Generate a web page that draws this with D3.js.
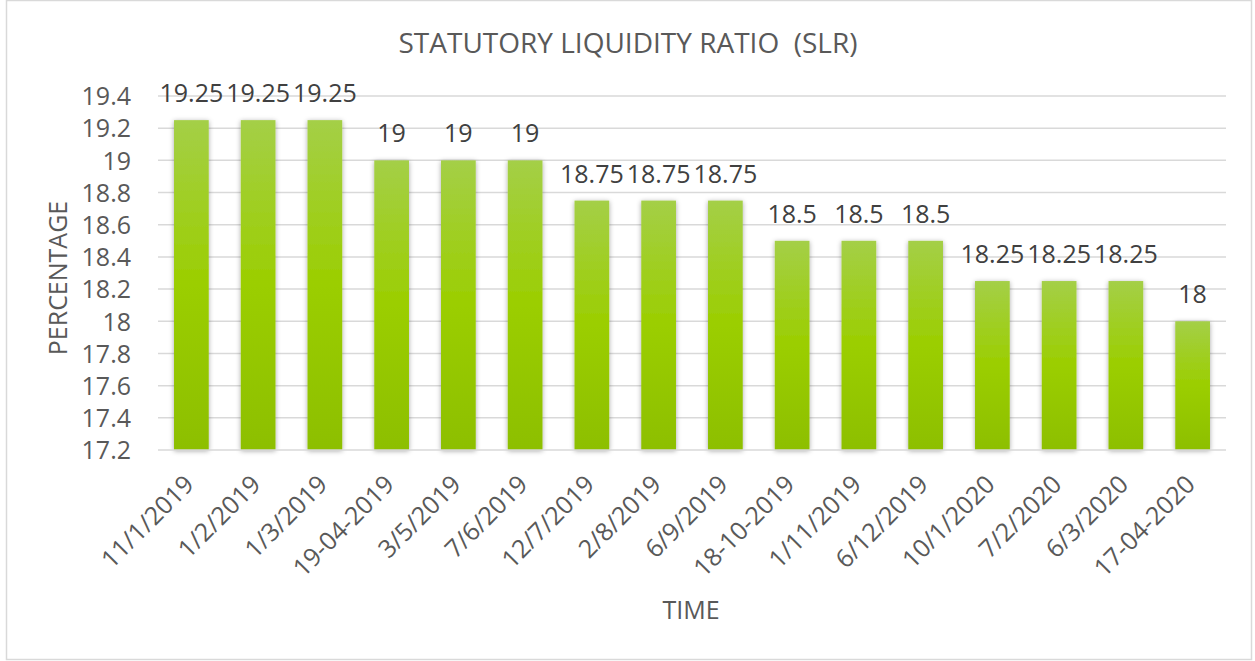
<!DOCTYPE html>
<html><head><meta charset="utf-8">
<script src="https://cdn.jsdelivr.net/npm/d3@7"></script>
<style>
html,body{margin:0;padding:0;background:#fff;}
svg text{font-family:"Open Sans",sans-serif;fill:#595959;}
</style></head>
<body>
<svg id="c" width="1255" height="661"></svg>
<script>
const categories = ["11/1/2019","1/2/2019","1/3/2019","19-04-2019","3/5/2019","7/6/2019","12/7/2019","2/8/2019","6/9/2019","18-10-2019","1/11/2019","6/12/2019","10/1/2020","7/2/2020","6/3/2020","17-04-2020"];
const values = [19.25,19.25,19.25,19,19,19,18.75,18.75,18.75,18.5,18.5,18.5,18.25,18.25,18.25,18];
const yTicks = [17.2,17.4,17.6,17.8,18,18.2,18.4,18.6,18.8,19,19.2,19.4];
const title = "STATUTORY LIQUIDITY RATIO  (SLR)";
const yTitle = "PERCENTAGE";
const xTitle = "TIME";

const svg = d3.select("#c");
const m = {left:158, right:1226, top:96, bottom:450};
const FS = 25;

svg.append("rect").attr("x",6.5).attr("y",0.5).attr("width",1245).attr("height",659)
  .attr("fill","#fff").attr("stroke","#d9d9d9").attr("stroke-width",1.5);

const defs = svg.append("defs");
const g = defs.append("linearGradient").attr("id","bg").attr("x1",0).attr("y1",0).attr("x2",0).attr("y2",1);
g.append("stop").attr("offset","0%").attr("stop-color","#a4cf47");
g.append("stop").attr("offset","50%").attr("stop-color","#9bce00");
g.append("stop").attr("offset","100%").attr("stop-color","#8dbf00");
const f = defs.append("filter").attr("id","sh").attr("x","-30%").attr("y","-10%").attr("width","160%").attr("height","120%");
f.append("feDropShadow").attr("dx",0).attr("dy",1).attr("stdDeviation",2.5).attr("flood-color","#000").attr("flood-opacity",0.35);

const x = d3.scaleBand().domain(categories).range([m.left,m.right]).paddingInner(0.48).paddingOuter(0.24);
const y = d3.scaleLinear().domain([17.2,19.4]).range([m.bottom,m.top]);

// gridlines
svg.append("g").selectAll("line").data(yTicks.slice(1)).join("line")
  .attr("x1",m.left).attr("x2",m.right)
  .attr("y1",d=>y(d)).attr("y2",d=>y(d))
  .attr("stroke","#d9d9d9").attr("stroke-width",1.5);

// y axis labels
const yAxis = d3.axisLeft(y).tickValues(yTicks).tickSize(0).tickPadding(0).tickFormat(d=>String(+d.toFixed(1)));
const ya = svg.append("g").attr("transform",`translate(${m.left-27},0)`).call(yAxis);
ya.select(".domain").remove();
ya.selectAll("text").attr("font-size",FS).attr("dy","0.35em").style("font-family","Open Sans").attr("fill","#595959");

// bars
svg.append("g").selectAll("rect").data(values).join("rect")
  .attr("x",(d,i)=>x(categories[i])).attr("width",x.bandwidth())
  .attr("y",d=>y(d)).attr("height",d=>y(17.2)-y(d))
  .attr("fill","url(#bg)").attr("filter","url(#sh)");

// baseline
svg.append("line").attr("x1",m.left).attr("x2",m.right).attr("y1",y(17.2)).attr("y2",y(17.2))
  .attr("stroke","#d9d9d9").attr("stroke-width",1.5);

// data labels
svg.append("g").selectAll("text").data(values).join("text")
  .attr("x",(d,i)=>x(categories[i])+x.bandwidth()/2).attr("y",d=>y(d)-18)
  .attr("text-anchor","middle").attr("font-size",FS).style("fill","#404040")
  .text(d=>String(d));

// x axis labels
const xAxis = d3.axisBottom(x).tickSize(0).tickPadding(0);
const xa = svg.append("g").attr("transform",`translate(0,${m.bottom})`).call(xAxis);
xa.select(".domain").remove();
xa.selectAll("text").attr("font-size",FS).style("font-family","Open Sans").attr("fill","#595959")
  .attr("text-anchor","end").attr("dy",0).attr("y",0)
  .attr("transform","translate(4,36) rotate(-45)");

// titles
svg.append("text").attr("x",628).attr("y",53).attr("text-anchor","middle")
  .attr("font-size",28).attr("xml:space","preserve").style("white-space","pre").text(title);
svg.append("text").attr("transform",`translate(67,278) rotate(-90)`).attr("text-anchor","middle")
  .attr("font-size",FS).text(yTitle);
svg.append("text").attr("x",691).attr("y",619).attr("text-anchor","middle")
  .attr("font-size",FS).text(xTitle);
</script>
</body></html>
